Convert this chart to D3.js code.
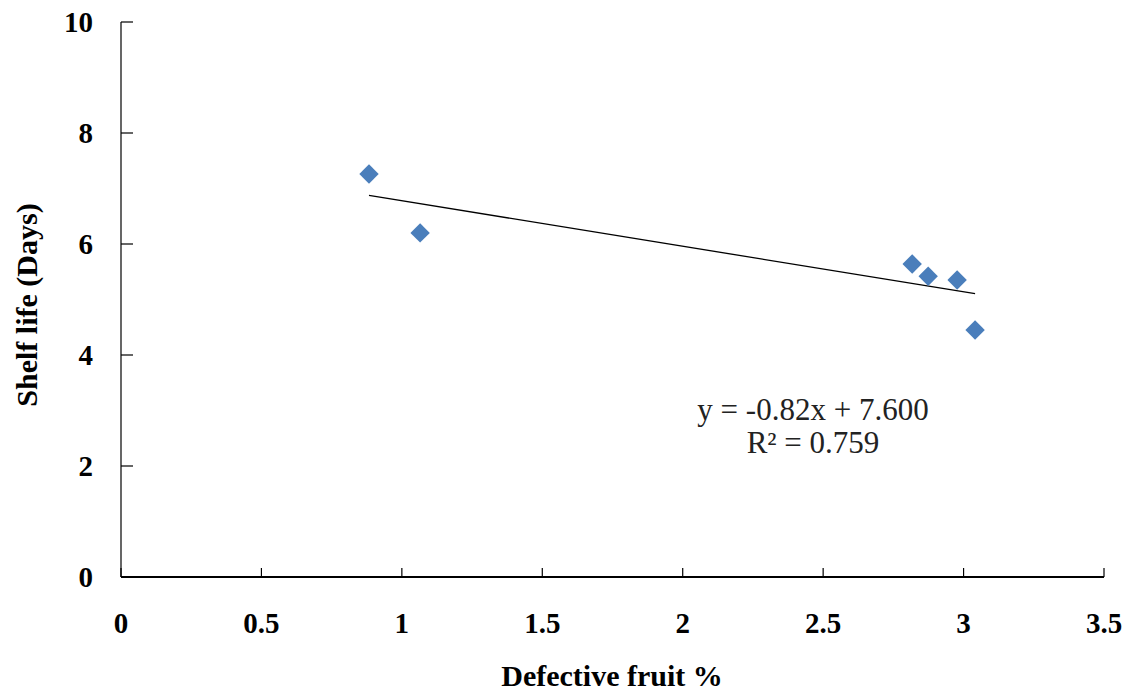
<!DOCTYPE html>
<html>
<head>
<meta charset="utf-8">
<script src="https://cdn.jsdelivr.net/npm/d3@7"></script>
<style>
  body { margin: 0; background: #fff; }
  text { font-family: "Liberation Serif", "Times New Roman", serif; }
</style>
</head>
<body>
<div id="chart"></div>
<script>
// defective fruit % vs shelf life
var defective = [0.883, 1.065, 2.817, 2.874, 2.977, 3.041];
var shelfLife = [7.26, 6.20, 5.64, 5.42, 5.35, 4.45];
var xTicks = [0, 0.5, 1, 1.5, 2, 2.5, 3, 3.5];
var yTicks = [0, 2, 4, 6, 8, 10];
var slope = -0.82, intercept = 7.600;
var eqLines = ["y = -0.82x + 7.600", "R² = 0.759"];

var width = 1134,
  height = 693;

var svg = d3.select('#chart')
  .append('svg')
  .attr('width', width)
  .attr('height', height)

var x = d3.scaleLinear().domain([0, 3.5]).range([121, 1104])
var y = d3.scaleLinear().domain([0, 10]).range([577, 22])

// y axis - ticks point inward
svg.append('line')
  .attr('x1', x(0)).attr('x2', x(0))
  .attr('y1', y(10)).attr('y2', y(0))
  .attr('stroke', '#000').attr('stroke-width', 1.2)

svg.selectAll('.ytick')
  .data(yTicks)
  .join('line')
  .attr('class', 'ytick')
  .attr('x1', x(0)).attr('x2', x(0) + 12)
  .attr('y1', d => y(d)).attr('y2', d => y(d))
  .attr('stroke', '#000').attr('stroke-width', 1.2)

svg.selectAll('.ylab')
  .data(yTicks)
  .join('text')
  .attr('class', 'ylab')
  .attr('x', 93)
  .attr('y', d => y(d))
  .attr('dy', '0.35em')
  .attr('text-anchor', 'end')
  .style('font-size', '29px')
  .style('font-weight', 'bold')
  .text(d => d)

// x axis
svg.append('line')
  .attr('x1', x(0)).attr('x2', x(3.5))
  .attr('y1', y(0)).attr('y2', y(0))
  .attr('stroke', '#000').attr('stroke-width', 2.2)

svg.selectAll('.xtick')
  .data(xTicks)
  .join('line')
  .attr('class', 'xtick')
  .attr('x1', d => x(d)).attr('x2', d => x(d))
  .attr('y1', y(0)).attr('y2', y(0) - 9)
  .attr('stroke', '#000').attr('stroke-width', 1.2)

svg.selectAll('.xlab')
  .data(xTicks)
  .join('text')
  .attr('class', 'xlab')
  .attr('x', d => x(d))
  .attr('y', 633)
  .attr('text-anchor', 'middle')
  .style('font-size', '29px')
  .style('font-weight', 'bold')
  .text(d => d)

// axis titles
svg.append('text')
  .attr('x', 612)
  .attr('y', 686)
  .attr('text-anchor', 'middle')
  .style('font-size', '30px')
  .style('font-weight', 'bold')
  .text('Defective fruit %')

svg.append('text')
  .attr('transform', 'translate(37,305) rotate(-90)')
  .attr('text-anchor', 'middle')
  .style('font-size', '30px')
  .style('font-weight', 'bold')
  .text('Shelf life (Days)')

// trend line
var xMin = d3.min(defective), xMax = d3.max(defective);
svg.append('line')
  .attr('x1', x(xMin)).attr('y1', y(slope * xMin + intercept))
  .attr('x2', x(xMax)).attr('y2', y(slope * xMax + intercept))
  .attr('stroke', '#000').attr('stroke-width', 1.3)

// points
var points = defective.map((d, i) => ({ x: d, y: shelfLife[i] }))
svg.selectAll('.pt')
  .data(points)
  .join('path')
  .attr('class', 'pt')
  .attr('d', d3.symbol().type(d3.symbolDiamond2).size(240))
  .attr('transform', d => 'translate(' + x(d.x) + ',' + y(d.y) + ')')
  .attr('fill', '#4a7ebb')

// equation
svg.selectAll('.eq')
  .data(eqLines)
  .join('text')
  .attr('class', 'eq')
  .attr('x', 813)
  .attr('y', (d, i) => 420 + i * 33)
  .attr('text-anchor', 'middle')
  .style('font-size', '31px')
  .style('fill', '#222')
  .text(d => d)
</script>
</body>
</html>
